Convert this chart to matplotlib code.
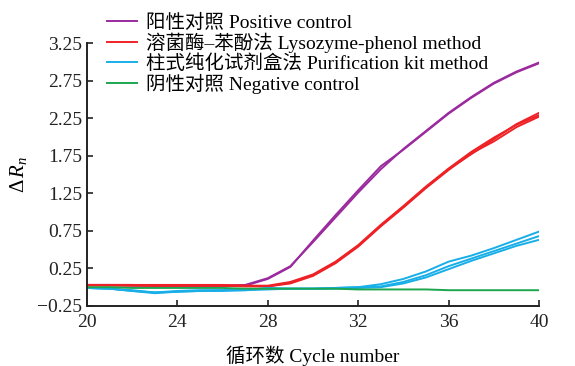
import matplotlib
matplotlib.use("Agg")
import matplotlib.pyplot as plt

plt.rcParams["font.family"] = ["Liberation Serif", "Noto Sans CJK SC", "DejaVu Sans"]
plt.rcParams["mathtext.fontset"] = "custom"
plt.rcParams["mathtext.rm"] = "Liberation Serif"
plt.rcParams["mathtext.it"] = "Liberation Serif:italic"

# --- datos ---
cycles = list(range(20, 41))

pos_1 = [0.03, 0.03, 0.03, 0.02, 0.02, 0.02, 0.02, 0.03, 0.12, 0.28, 0.60,
         0.93, 1.26, 1.57, 1.84, 2.08, 2.32, 2.53, 2.72, 2.87, 2.99]
pos_2 = [0.03, 0.03, 0.02, 0.02, 0.02, 0.02, 0.02, 0.02, 0.11, 0.27, 0.62,
         0.96, 1.29, 1.61, 1.83, 2.07, 2.31, 2.52, 2.71, 2.86, 2.98]

lyso_1 = [0.03, 0.03, 0.03, 0.03, 0.03, 0.03, 0.03, 0.02, 0.01, 0.06, 0.16,
          0.33, 0.55, 0.82, 1.07, 1.33, 1.57, 1.77, 1.97, 2.17, 2.32]
lyso_2 = [0.02, 0.02, 0.02, 0.02, 0.02, 0.02, 0.02, 0.01, 0.01, 0.05, 0.15,
          0.32, 0.54, 0.81, 1.06, 1.32, 1.56, 1.78, 1.94, 2.13, 2.27]
lyso_3 = [0.03, 0.03, 0.03, 0.02, 0.02, 0.02, 0.02, 0.02, 0.02, 0.07, 0.17,
          0.34, 0.56, 0.83, 1.08, 1.34, 1.58, 1.80, 1.99, 2.16, 2.29]

kit_1 = [-0.01, -0.02, -0.05, -0.08, -0.06, -0.05, -0.05, -0.04, -0.01, -0.02, -0.02,
         -0.01, 0.00, 0.04, 0.11, 0.21, 0.34, 0.42, 0.52, 0.63, 0.74]
kit_2 = [-0.01, -0.02, -0.04, -0.07, -0.05, -0.04, -0.04, -0.03, -0.02, -0.02, -0.02,
         -0.01, 0.00, 0.01, 0.07, 0.16, 0.28, 0.38, 0.48, 0.58, 0.68]
kit_3 = [-0.01, -0.02, -0.05, -0.07, -0.06, -0.05, -0.04, -0.04, -0.03, -0.02, -0.02,
         -0.02, -0.01, 0.00, 0.05, 0.13, 0.24, 0.35, 0.45, 0.55, 0.63]

neg_1 = [0.00, 0.00, -0.01, -0.01, -0.01, -0.01, -0.01, -0.02, -0.02, -0.02, -0.02,
         -0.02, -0.03, -0.03, -0.03, -0.03, -0.04, -0.04, -0.04, -0.04, -0.04]

labels = ["阳性对照 Positive control",
          "溶菌酶–苯酚法 Lysozyme-phenol method",
          "柱式纯化试剂盒法 Purification kit method",
          "阴性对照 Negative control"]
colors = ["#9b2a9e", "#ee2226", "#18aee8", "#1da650"]

groups = [[pos_1, pos_2], [lyso_1, lyso_2, lyso_3], [kit_1, kit_2, kit_3], [neg_1]]

yticks = [-0.25, 0.25, 0.75, 1.25, 1.75, 2.25, 2.75, 3.25]
xticks = [20, 24, 28, 32, 36, 40]

# --- figura ---
fig = plt.figure(figsize=(5.75, 3.66), dpi=100)
ax = fig.add_axes([0.1513, 0.164, 0.7861, 0.7185])

handles = []
for reps, col, lab in zip(groups, colors, labels):
    for i, y in enumerate(reps):
        ln, = ax.plot(cycles, y, color=col, lw=1.4)
        if i == 0:
            handles.append(ln)

ax.set_xlim(20, 40)
ax.set_ylim(-0.25, 3.25)
ax.set_xticks(xticks)
ax.set_yticks(yticks)
ax.set_yticklabels([f"{v:.2f}".replace("-", "\u2212") for v in yticks])
ax.tick_params(direction="in", length=4, width=1.2, labelsize=14, colors="#222222")
ax.tick_params(axis="x", pad=6)
for side in ["top", "right"]:
    ax.spines[side].set_visible(False)
for side in ["left", "bottom"]:
    ax.spines[side].set_linewidth(1.4)
    ax.spines[side].set_color("#222222")

ax.set_xlabel("循环数 Cycle number", fontsize=14, labelpad=10)
ax.set_ylabel(r"$\Delta\, R_n$", fontsize=15, labelpad=6)

# leyenda arriba, fuera del área de datos
fig.legend(handles=handles, labels=labels, loc="upper left",
           bbox_to_anchor=(107 / 575, 1 - 13.5 / 366), frameon=False,
           fontsize=14, handlelength=1.55, handletextpad=0.45,
           labelspacing=0.05, borderaxespad=0, borderpad=0)

fig.savefig("out.png", dpi=100)
